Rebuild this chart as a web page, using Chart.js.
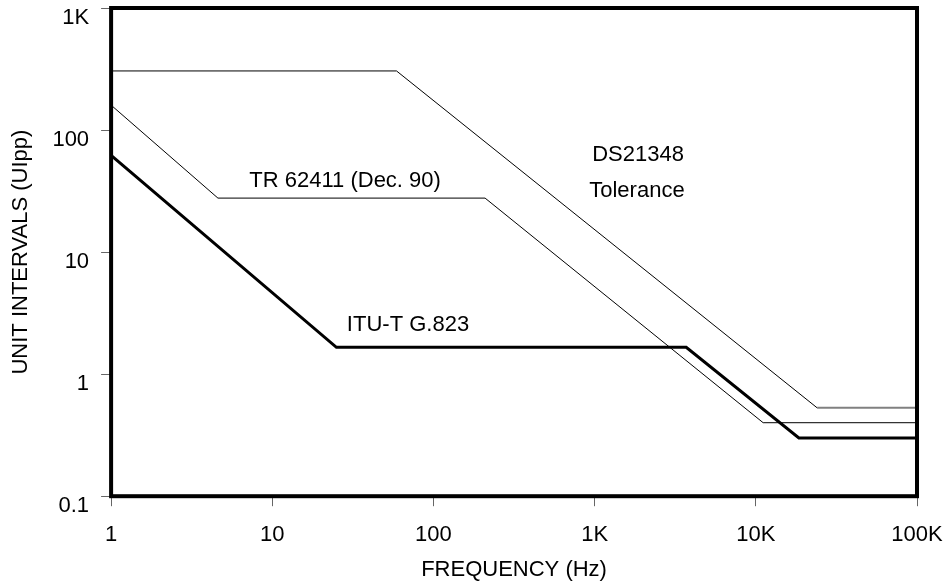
<!DOCTYPE html>
<html>
<head>
<meta charset="utf-8">
<script src="https://cdn.jsdelivr.net/npm/chart.js@4.4.1/dist/chart.umd.min.js"></script>
<style>
  html, body { margin: 0; padding: 0; background: #fff; }
  #wrap { width: 944px; height: 588px; }
</style>
</head>
<body>
<div id="wrap"><canvas id="c"></canvas></div>
<script>
// ── DATA ───────────────────────────────────────────────
const xTicks = [1, 10, 100, 1000, 10000, 100000];
const yTicks = [0.1, 1, 10, 100, 1000];

const dsFreq  = [1, 59, 24000, 100000];
const dsUi    = [305, 305, 0.53, 0.53];

const trFreq  = [1, 4.6, 209, 11100, 100000];
const trUi    = [160, 27.7, 27.7, 0.4, 0.4];

const ituFreq = [1, 25, 3700, 18500, 100000];
const ituUi   = [62, 1.66, 1.66, 0.3, 0.3];

// texts placed inside the plot (data coordinates)
const notes = [
  { text: 'DS21348',            f: 1860, v: 62 },
  { text: 'Tolerance',          f: 1830, v: 31.6 },
  { text: 'TR 62411 (Dec. 90)', f: 28.3, v: 38.2 },
  { text: 'ITU-T G.823',        f: 69.5, v: 2.52 },
];

// ── HELPERS ────────────────────────────────────────────
const pts = (xs, ys) => xs.map((x, i) => ({ x, y: ys[i] }));

function fmtK(v) {
  if (v >= 1000) return (v / 1000) + 'K';
  return String(v);
}

const FONT = "'Liberation Sans', Arial, sans-serif";

const frameAndNotes = {
  id: 'frameAndNotes',
  afterDatasetsDraw(chart) {
    const { ctx, chartArea: a, scales } = chart;
    ctx.save();
    ctx.fillStyle = '#000';
    ctx.font = '22px ' + FONT;
    ctx.textAlign = 'center';
    ctx.textBaseline = 'middle';
    notes.forEach(n => {
      ctx.fillText(n.text, scales.x.getPixelForValue(n.f), scales.y.getPixelForValue(n.v));
    });
    ctx.strokeStyle = '#000';
    ctx.lineWidth = 4;
    ctx.strokeRect(a.left, a.top, a.right - a.left, a.bottom - a.top);
    ctx.restore();
  }
};

const line = (data, width, extra) => Object.assign({
  data, showLine: true, borderColor: '#000', borderWidth: width,
  pointRadius: 0, fill: false, tension: 0
}, extra || {});

new Chart(document.getElementById('c'), {
  type: 'scatter',
  data: {
    datasets: [
      line(pts(dsFreq, dsUi), 1, {
        segment: { borderColor: s => s.p0DataIndex === 2 ? '#808080' : '#000',
                   borderWidth: s => s.p0DataIndex === 2 ? 2 : 1 }
      }),
      line(pts(trFreq, trUi), 1),
      line(pts(ituFreq, ituUi), 3),
    ]
  },
  options: {
    responsive: true,
    maintainAspectRatio: false,
    animation: false,
    layout: { padding: { left: 4, right: 0, top: 8, bottom: 5 } },
    plugins: { legend: { display: false }, tooltip: { enabled: false } },
    scales: {
      x: {
        type: 'logarithmic', min: 1, max: 100000,
        afterBuildTicks: s => { s.ticks = xTicks.map(value => ({ value })); },
        afterFit: s => { s.height -= 15; s.paddingRight = 27; s.paddingLeft = 0; },
        grid: { drawOnChartArea: false, drawTicks: true, tickLength: 10, color: '#666' },
        border: { display: false },
        ticks: { callback: v => fmtK(v), color: '#000', font: { family: FONT, size: 22 },
                 padding: 16, maxRotation: 0, autoSkip: false },
        title: { display: true, text: 'FREQUENCY (Hz)', color: '#000',
                 font: { family: FONT, size: 22 }, padding: { top: 7, bottom: 0 } }
      },
      y: {
        type: 'logarithmic', min: 0.1, max: 1000,
        afterBuildTicks: s => { s.ticks = yTicks.map(value => ({ value })); },
        afterFit: s => { s.width -= 10; s.paddingTop = 0; s.paddingBottom = 0; },
        grid: { drawOnChartArea: false, drawTicks: true, tickLength: 10, color: '#666' },
        border: { display: false },
        ticks: { callback: v => fmtK(v), color: '#000', font: { family: FONT, size: 22 },
                 padding: 12, labelOffset: 10, autoSkip: false },
        title: { display: true, text: 'UNIT INTERVALS (UIpp)', color: '#000',
                 font: { family: FONT, size: 22 }, padding: { top: 4, bottom: 16 } }
      }
    }
  },
  plugins: [frameAndNotes]
});
</script>
</body>
</html>
